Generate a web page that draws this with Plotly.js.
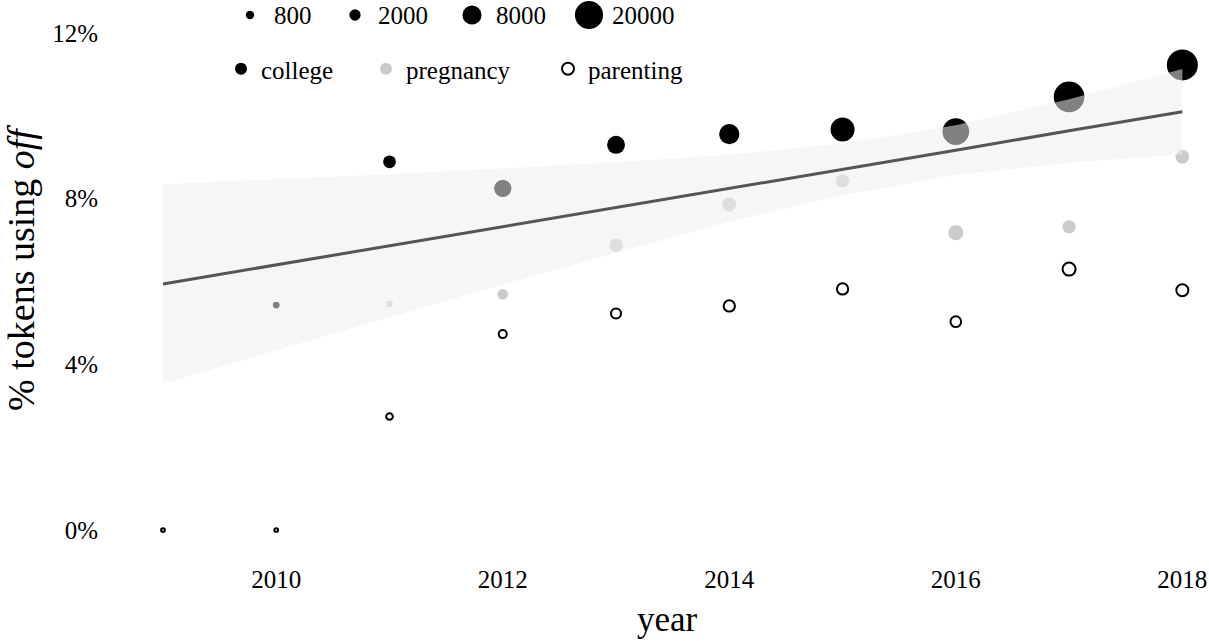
<!DOCTYPE html>
<html><head><meta charset="utf-8">
<script src="https://cdn.plot.ly/plotly-3.0.1.min.js"></script>
<style>html,body{margin:0;padding:0;background:#fff}#chart{width:1209px;height:641px}</style>
</head><body><div id="chart"></div>
<script>
// ---- data ----
const collegeYears   = [2010, 2011, 2012, 2013, 2014, 2015, 2016, 2017, 2018];
const collegePct     = [5.43, 8.89, 8.25, 9.30, 9.56, 9.67, 9.62, 10.46, 11.23];
const collegeTokens  = [340, 2800, 6300, 6900, 9300, 13900, 17800, 24400, 25000];

const pregnancyYears  = [2011, 2012, 2013, 2014, 2015, 2016, 2017, 2018];
const pregnancyPct    = [5.46, 5.69, 6.88, 7.86, 8.43, 7.18, 7.32, 9.01];
const pregnancyTokens = [340, 1700, 3200, 3600, 3200, 4400, 3200, 3600];

const parentingYears  = [2009, 2010, 2011, 2012, 2013, 2014, 2015, 2016, 2017, 2018];
const parentingPct    = [0.0, 0.0, 2.74, 4.73, 5.23, 5.41, 5.82, 5.03, 6.30, 5.79];
const parentingTokens = [2, 2, 340, 670, 1400, 2000, 2000, 1700, 3000, 2400];

const fitYears = [2009, 2010, 2011, 2012, 2013, 2014, 2015, 2016, 2017, 2018];
const fitPct   = [5.94, 6.40, 6.86, 7.33, 7.79, 8.25, 8.71, 9.17, 9.64, 10.10];
const bandLow  = [3.54, 4.34, 5.14, 5.93, 6.70, 7.44, 8.09, 8.57, 8.87, 9.07];
const bandHigh = [8.35, 8.47, 8.59, 8.73, 8.88, 9.06, 9.33, 9.77, 10.40, 11.13];

const sizeLegendValues = [800, 2000, 8000, 20000];
const categories = ['college', 'pregnancy', 'parenting'];
const yTickVals = [0, 4, 8, 12];
const xTickVals = [2010, 2012, 2014, 2016, 2018];

// ---- styling / scales ----
const FONT = 'Liberation Serif, Times New Roman, serif';
const sizeScale = n => 3.5 + 0.174 * Math.sqrt(n);   // token count -> marker diameter (px)

const L = 129, R = 4, T = 0, B = 101, W = 1209, H = 641;
const PW = W - L - R, PH = H - T - B;
const px2paperX = px => (px - L) / PW;
const px2paperY = py => 1 - (py - T) / PH;

const traces = [
  {
    type: 'scatter', mode: 'markers', name: categories[0],
    x: collegeYears, y: collegePct,
    marker: {color: '#000000', opacity: 1, size: collegeTokens.map(sizeScale), line: {width: 0}},
    legendwidth: 100, hoverinfo: 'x+y+name'
  },
  {
    type: 'scatter', mode: 'markers', name: categories[1],
    x: pregnancyYears, y: pregnancyPct,
    marker: {color: '#cbcbcb', opacity: 1, size: pregnancyTokens.map(sizeScale), line: {width: 0}},
    legendwidth: 137, hoverinfo: 'x+y+name'
  },
  {
    type: 'scatter', mode: 'markers', name: categories[2],
    x: parentingYears, y: parentingPct,
    marker: {symbol: 'circle-open', color: '#000000', opacity: 1, size: parentingTokens.map(sizeScale), line: {width: 2}},
    legendwidth: 100, hoverinfo: 'x+y+name'
  },
  {
    type: 'scatter', mode: 'lines', showlegend: false, hoverinfo: 'skip',
    x: fitYears.concat(fitYears.slice().reverse()),
    y: bandHigh.concat(bandLow.slice().reverse()),
    fill: 'toself', fillcolor: 'rgba(238,238,238,0.54)',
    line: {width: 0, color: 'rgba(0,0,0,0)'}
  },
  {
    type: 'scatter', mode: 'lines', showlegend: false,
    x: fitYears, y: fitPct,
    line: {color: 'rgb(85,85,85)', width: 3}
  }
];

// size legend (manual, as legend markers in plotly are capped in size)
const sizeDotX  = [250, 355, 472, 589];
const sizeTextX = [272, 376, 494, 610];
const sizeRowY  = 15;
const shapes = sizeLegendValues.map((v, i) => {
  const r = sizeScale(v) / 2;
  return {
    type: 'circle', xref: 'paper', yref: 'paper',
    xsizemode: 'pixel', ysizemode: 'pixel',
    xanchor: px2paperX(sizeDotX[i]), yanchor: px2paperY(sizeRowY),
    x0: -r, x1: r, y0: -r, y1: r,
    fillcolor: '#000000', line: {width: 0}
  };
});
const annotations = sizeLegendValues.map((v, i) => ({
  xref: 'paper', yref: 'paper', x: px2paperX(sizeTextX[i]), y: px2paperY(sizeRowY),
  xanchor: 'left', yanchor: 'middle', showarrow: false,
  text: String(v), font: {family: FONT, size: 25, color: '#000'}
}));

const layout = {
  width: W, height: H,
  margin: {l: L, r: R, t: T, b: B, pad: 0},
  paper_bgcolor: '#ffffff', plot_bgcolor: '#ffffff',
  font: {family: FONT, color: '#000000', size: 25},
  showlegend: true,
  legend: {
    orientation: 'h', x: px2paperX(221), xanchor: 'left',
    y: px2paperY(69), yanchor: 'middle',
    font: {family: FONT, size: 25, color: '#000'},
    itemsizing: 'constant', bgcolor: 'rgba(0,0,0,0)', borderwidth: 0
  },
  xaxis: {
    range: [2008.7, 2018.2], tickvals: xTickVals, ticktext: xTickVals.map(String),
    showgrid: false, zeroline: false, showline: false, ticks: '',
    ticklabelstandoff: 22, tickfont: {family: FONT, size: 25, color: '#000'},
    title: {text: 'year', font: {family: FONT, size: 35, color: '#000'}, standoff: 14},
    automargin: false, fixedrange: true
  },
  yaxis: {
    range: [-0.2414, 12.797], tickvals: yTickVals, ticktext: yTickVals.map(v => v + '%'),
    showgrid: false, zeroline: false, showline: false, ticks: '',
    ticklabelstandoff: 30, tickfont: {family: FONT, size: 25, color: '#000'},
    title: {text: '% tokens using <i>off</i>', font: {family: FONT, size: 38, color: '#000'}, standoff: 10},
    automargin: false, fixedrange: true
  },
  shapes: shapes,
  annotations: annotations
};

Plotly.newPlot('chart', traces, layout, {displayModeBar: false, staticPlot: true});
</script>
</body></html>
